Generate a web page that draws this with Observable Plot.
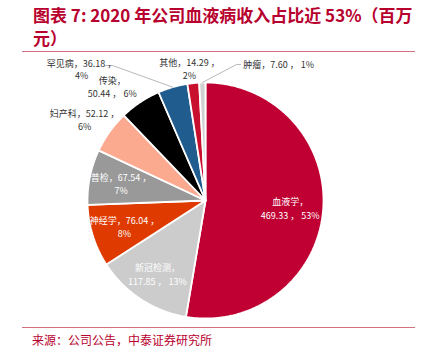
<!DOCTYPE html>
<html><head><meta charset="utf-8">
<script src="https://cdn.jsdelivr.net/npm/d3@7"></script>
<script src="https://cdn.jsdelivr.net/npm/@observablehq/plot@0.6"></script>
<style>
html,body{margin:0;padding:0;background:#fff}
body{width:426px;height:357px;overflow:hidden;position:relative;font-family:"Noto Sans CJK SC","Noto Sans",sans-serif}
#title{position:absolute;left:33px;top:3px;width:390px;font-size:17px;font-weight:bold;color:#B8002E;line-height:23px;letter-spacing:0px}
#topline{position:absolute;left:22px;top:51px;width:393px;height:0;border-top:1px solid #D2707E}
#chart{position:absolute;left:0;top:52px}
#botline{position:absolute;left:22px;top:327px;width:393px;height:0;border-top:1px solid #D2707E}
#source{position:absolute;left:32px;top:332px;font-size:12px;color:#B8002E;line-height:16px}
</style></head>
<body>
<div id="title">图表 7: 2020 年公司血液病收入占比近 53%（百万<br>元）</div>
<div id="topline"></div>
<div id="chart"></div>
<div id="botline"></div>
<div id="source">来源：公司公告，中泰证券研究所</div>
<script>
// ---- data ----
const categories = ["血液学", "新冠检测", "神经学", "普检", "妇产科", "传染", "罕见病", "其他", "肿瘤"];
const values = [469.33, 117.85, 76.04, 67.54, 52.12, 50.44, 36.18, 14.29, 7.60];
const percents = [53, 13, 8, 7, 6, 6, 4, 2, 1];
const colors = ["#C00032", "#CCCCCC", "#DF3A00", "#999999", "#FBAA90", "#000000", "#205C8E", "#C8102E", "#D0D0D0"];

// ---- label layout (unit-circle coordinates; number = radius along slice mid-angle) ----
const labelAt = [0.72, 0.74, 0.72, 0.73, [-1.025, 0.686], [-0.79, 0.965], [-1.05, 1.115], [-0.136, 1.119], [0.62, 1.158]];
const labelInside = [true, true, true, true, false, false, false, false, false];
const labelText = [
  (c, v, p) => `${c}，\n${v.toFixed(2)} ， ${p}%`,
  (c, v, p) => `${c}，\n${v.toFixed(2)} ， ${p}%`,
  (c, v, p) => `${c}，${v.toFixed(2)} ，\n${p}%`,
  (c, v, p) => `${c}，${v.toFixed(2)} ，\n${p}%`,
  (c, v, p) => `${c}，${v.toFixed(2)} ，\n${p}%`,
  (c, v, p) => `${c}，\n${v.toFixed(2)} ， ${p}%`,
  (c, v, p) => `${c}，${v.toFixed(2)} ，\n${p}%`,
  (c, v, p) => `${c}，${v.toFixed(2)} ，\n${p}%`,
  (c, v, p) => `${c}，${v.toFixed(2)} ， ${p}%`
];
// leader elbows (unit coords), ending at slice outer mid-point
const leaders = {6: [[-0.847, 1.144], [-0.788, 1.144]], 8: [[0.297, 1.153], [0.263, 1.153]]};

// ---- geometry ----
const arcs = d3.pie().sort(null).value(d => d)(values);
const polys = [];
arcs.forEach((a, i) => {
  const cat = categories[i];
  polys.push({cat, x: 0, y: 0});
  const n = Math.max(4, Math.ceil((a.endAngle - a.startAngle) / (Math.PI / 360)));
  for (let k = 0; k <= n; k++) {
    const t = a.startAngle + (a.endAngle - a.startAngle) * k / n;
    polys.push({cat, x: Math.sin(t), y: Math.cos(t)});
  }
  polys.push({cat, x: 0, y: 0});
});
const labels = arcs.map((a, i) => {
  const mid = (a.startAngle + a.endAngle) / 2;
  const pos = labelAt[i];
  const [x, y] = typeof pos === "number" ? [pos * Math.sin(mid), pos * Math.cos(mid)] : pos;
  return {x, y, inside: labelInside[i], text: labelText[i](categories[i], values[i], percents[i])};
});
const leaderPts = [];
Object.entries(leaders).forEach(([i, pts]) => {
  const a = arcs[+i];
  const mid = (a.startAngle + a.endAngle) / 2;
  pts.forEach(p => leaderPts.push({id: i, x: p[0], y: p[1]}));
  leaderPts.push({id: i, x: Math.sin(mid), y: Math.cos(mid)});
});

const chart = Plot.plot({
  width: 426, height: 274,
  marginLeft: 87, marginRight: 103, marginTop: 30, marginBottom: 8,
  x: {domain: [-1, 1], axis: null},
  y: {domain: [-1, 1], axis: null},
  color: {domain: categories, range: colors},
  style: {fontFamily: '"Noto Sans CJK SC","Noto Sans",sans-serif', background: "white"},
  marks: [
    Plot.line(polys, {x: "x", y: "y", z: "cat", fill: "cat", stroke: "white", strokeWidth: 1.8, strokeLinejoin: "miter"}),
    Plot.line(leaderPts, {x: "x", y: "y", z: "id", stroke: "#A6A6A6", strokeWidth: 0.8}),
    Plot.text(labels.filter(d => d.inside), {x: "x", y: "y", text: "text", fill: "white", fontSize: 9, lineHeight: 1.5}),
    Plot.text(labels.filter(d => !d.inside), {x: "x", y: "y", text: "text", fill: "#333333", fontSize: 9, lineHeight: 1.4})
  ]
});
document.getElementById("chart").appendChild(chart);
</script>
</body></html>
